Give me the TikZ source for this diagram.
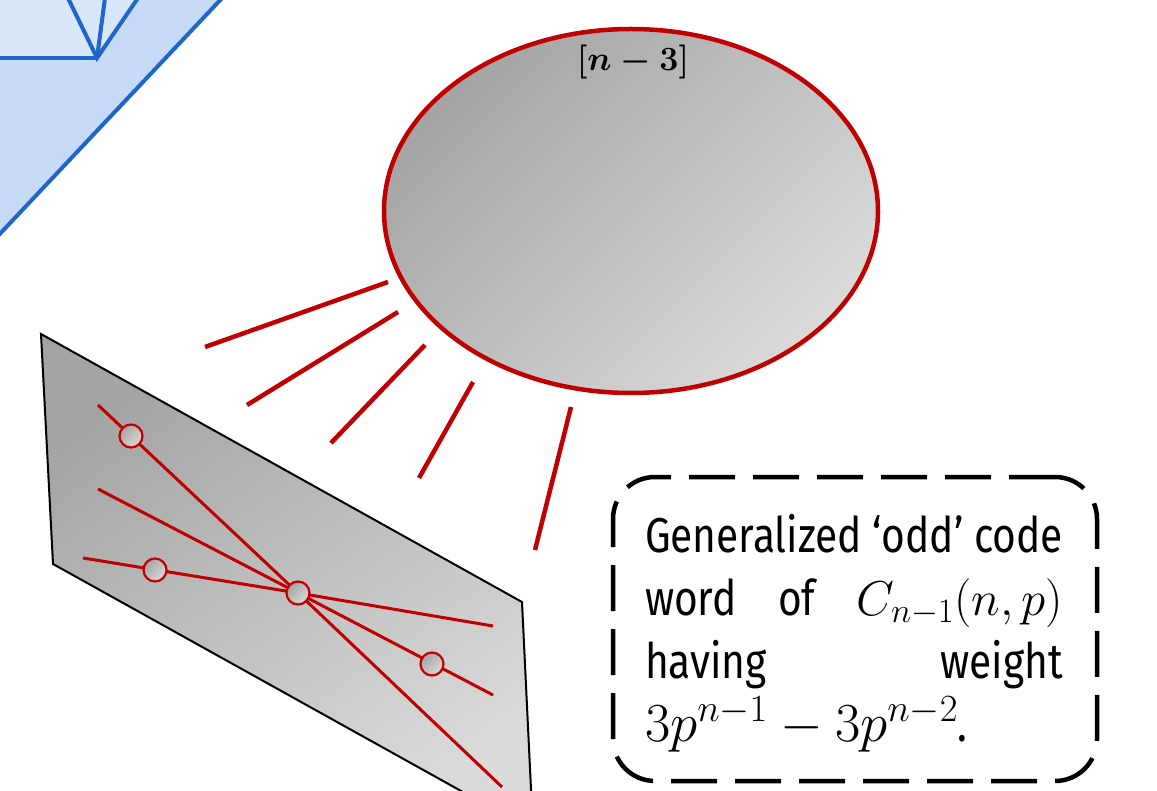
\RequirePackage{fix-cm}
\documentclass[tikz,border=0pt]{standalone}
\usepackage{fontspec}
\setmainfont{Fira Sans}[FakeStretch=0.83]
\usetikzlibrary{shapes.geometric}
\definecolor{rd}{HTML}{C00000}
\definecolor{bl}{HTML}{1F66CC}
\definecolor{blfill}{HTML}{C7DBF6}
\definecolor{blin}{HTML}{D8E6F9}
\definecolor{grD}{HTML}{A4A4A4}
\definecolor{grL}{HTML}{DADADA}
\tikzset{
  ray/.style={draw=rd, line width=4.5pt},
  pline/.style={draw=rd, line width=3pt},
  blline/.style={draw=bl, line width=4pt},
  dotnode/.style={circle, draw=rd, line width=2.2pt, minimum size=23pt, inner sep=0pt,
    top color=grD, bottom color=grL, shading angle=45},
  notebox/.style={draw=black, line width=4.5pt, dash pattern=on 46pt off 18pt,
    rounded corners=42pt, minimum width=484pt, minimum height=304pt, inner sep=0pt},
  notetext/.style={inner sep=0pt, font=\fontsize{49}{63}\selectfont, align=left},
  labtext/.style={font=\fontsize{34}{40}\selectfont, inner sep=0pt}
}
\begin{document}
\begin{tikzpicture}[x=1pt,y=-1pt]
\useasboundingbox (0,0) rectangle (1157,791);
\clip (0,0) rectangle (1157,791);
% blue shape (top-left)
\fill[blfill] (-5,-5) -- (224,-5) -- (-5,238) -- cycle;
\fill[blin] (0,0) -- (68,0) -- (97,58) -- (0,58) -- cycle;
\fill[blin] (68,0) -- (97,58) -- (137,0) -- cycle;
\draw[blline] (-5,58) -- (97,58);
\draw[blline, line join=miter] (68,-2) -- (97,58) -- (138,-2);
\draw[blline] (105,-2) -- (97,58);
\draw[blline] (224,-4) -- (-4,238);
% ellipse
\node[ellipse, draw=rd, line width=4.5pt, minimum width=494pt, minimum height=364pt, top color=grD, bottom color=grL, shading angle=45] (ell) at (631,211) {};
\node[labtext] (lab) at (633,62) {{\boldmath $[n-3]$}};
% rays
\draw[ray] (205,347) -- (388,282);
\draw[ray] (247,405) -- (398,312);
\draw[ray] (331,443) -- (425,345);
\draw[ray] (419,478) -- (473,382);
\draw[ray] (535,550) -- (571,407);
% plane
\draw[line width=2pt, top color=grD, bottom color=grL, shading angle=35]
  (41,334) -- (522,602) -- (533,831) -- (53,564) -- cycle;
\coordinate (c) at (298,593);
\draw[pline] (98,405) -- (c) -- (502,787);
\draw[pline] (98,489) -- (c) -- (493,695);
\draw[pline] (83,558) -- (c) -- (493,626);
\node[dotnode] (d1) at (131,436) {};
\node[dotnode] (d2) at (155,570) {};
\node[dotnode] (d3) at (c) {};
\node[dotnode] (d4) at (432,664) {};
% text box
\node[notebox] (box) at (855,629) {};
\node[notetext] (txt) at (854,633) {%
\hbox to 418pt{Generalized ‘odd’ code}\\
\hbox to 418pt{word of $C_{n-1}(n,p)$}\\
\hbox to 418pt{having\hfil weight}\\
\hbox to 418pt{{\fontsize{55}{63}\selectfont$3p^{n-1}-3p^{n-2}$}.\hfil}};
\end{tikzpicture}
\end{document}
